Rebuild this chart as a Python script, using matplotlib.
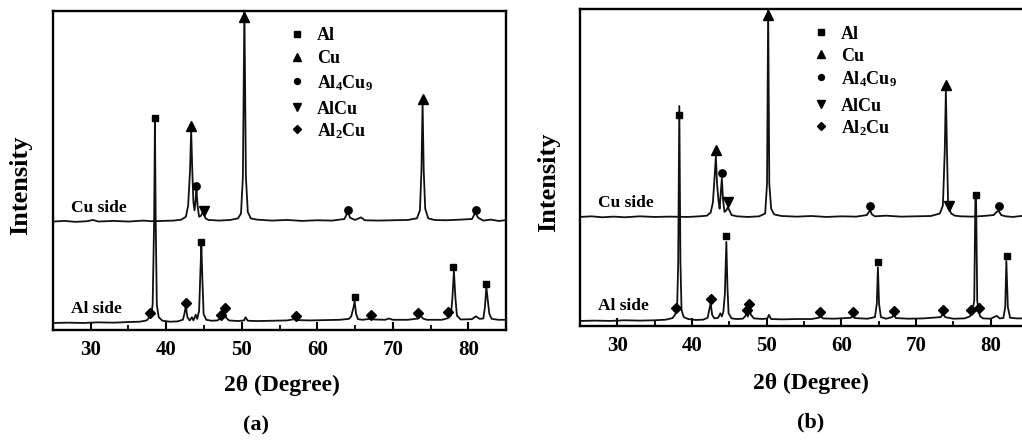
import matplotlib
matplotlib.use("Agg")
import matplotlib.pyplot as plt
from matplotlib.ticker import MultipleLocator

plt.rcParams['font.family'] = ['Liberation Serif', 'DejaVu Serif']
plt.rcParams['font.weight'] = 'bold'
plt.rcParams['mathtext.fontset'] = 'custom'
plt.rcParams['mathtext.rm'] = 'Liberation Serif:bold'
plt.rcParams['mathtext.it'] = 'Liberation Serif:bold'
plt.rcParams['mathtext.bf'] = 'Liberation Serif:bold'

# ---- panel (a) traces (2theta, intensity a.u.) ----
cu_a_x = [25.0, 26.5, 28.0, 29.5, 30.3, 31.0, 33.0, 35.0, 37.0, 38.0, 39.5, 41.0, 42.0, 42.6, 42.9,
          43.15, 43.3, 43.45, 43.6, 43.75, 43.9, 44.0, 44.15, 44.35, 44.6, 44.85, 45.0, 45.2, 45.6,
          47.0, 48.5, 49.5, 49.9, 50.15, 50.35, 50.55, 50.8, 51.2, 52.0, 54.0, 56.0, 58.0, 60.0,
          62.0, 63.6, 63.9, 64.1, 64.35, 65.0, 65.8, 66.3, 68.0, 70.0, 72.0, 73.2, 73.6, 73.8,
          73.95, 74.1, 74.3, 74.7, 75.5, 77.0, 79.0, 80.5, 80.8, 81.0, 81.3, 82.0, 83.0, 84.0, 85.0]
cu_a_y = [34.0, 34.2, 33.9, 34.1, 34.5, 34.0, 34.2, 34.0, 34.3, 34.1, 34.2, 34.3, 34.6, 35.5, 39.0,
          50.0, 62.5, 50.0, 40.0, 37.5, 41.0, 44.0, 39.0, 35.5, 35.8, 37.0, 36.5, 35.0, 34.5,
          34.3, 34.5, 35.0, 36.5, 48.0, 101.0, 48.0, 37.0, 35.0, 34.6, 34.3, 34.5, 34.2, 34.4,
          34.3, 34.8, 36.3, 36.8, 35.2, 34.5, 35.3, 34.4, 34.3, 34.4, 34.5, 35.0, 37.5, 50.0,
          71.5, 50.0, 38.0, 35.0, 34.5, 34.4, 34.6, 34.8, 36.2, 36.6, 35.2, 34.3, 34.6, 34.2, 34.4]

al_a_x = [25.0, 27.0, 29.0, 31.0, 33.0, 35.0, 36.5, 37.4, 37.7, 38.0, 38.2, 38.4, 38.5, 38.6, 38.75,
          39.0, 39.5, 40.5, 41.5, 42.2, 42.4, 42.6, 42.8, 43.1, 43.4, 43.6, 43.9, 44.1, 44.35, 44.55,
          44.65, 44.8, 44.95, 45.3, 46.0, 46.8, 47.1, 47.3, 47.5, 47.7, 47.9, 48.3, 49.5, 50.3, 50.5,
          50.8, 52.0, 54.0, 56.0, 57.0, 57.2, 57.5, 59.0, 61.0, 63.0, 64.2, 64.5, 64.8, 64.95, 65.15,
          65.4, 66.0, 67.0, 67.2, 67.5, 69.0, 69.5, 70.0, 72.0, 73.4, 73.7, 74.0, 74.5, 76.5, 77.3,
          77.7, 77.9, 78.1, 78.3, 78.5, 79.0, 80.5, 81.0, 81.5, 82.0, 82.2, 82.4, 82.6, 82.8, 83.1,
          84.0, 85.0]
al_a_y = [2.2, 2.3, 2.2, 2.4, 2.3, 2.5, 2.6, 3.0, 3.8, 4.5, 8.0, 35.0, 66.0, 35.0, 8.0,
          4.0, 2.9, 2.6, 2.7, 3.2, 5.0, 7.5, 4.0, 3.0, 4.0, 3.0, 4.8, 3.5, 6.0, 20.0,
          26.5, 15.0, 5.0, 3.2, 2.9, 3.0, 3.6, 4.5, 3.8, 5.5, 4.0, 3.0, 2.8, 3.0, 4.0,
          2.9, 2.8, 2.9, 3.0, 3.4, 4.0, 3.1, 3.0, 3.1, 3.2, 3.5, 4.3, 7.0, 9.0, 5.0,
          3.4, 3.2, 3.5, 4.0, 3.3, 3.2, 3.6, 3.2, 3.2, 3.6, 4.5, 3.6, 3.2, 3.2, 3.7,
          4.5, 10.0, 18.5, 10.0, 4.5, 3.3, 3.4, 4.3, 3.5, 3.6, 7.0, 13.5, 9.0, 5.0, 3.5,
          3.2, 3.2]

# ---- panel (b) traces ----
cu_b_x = [25.0, 26.5, 28.0, 29.5, 31.0, 33.0, 35.0, 37.0, 39.5, 41.0, 42.0, 42.5, 42.8, 43.05,
          43.2, 43.35, 43.55, 43.7, 43.85, 44.0, 44.15, 44.35, 44.6, 44.8, 45.0, 45.3, 46.0, 47.5,
          49.0, 49.8, 50.05, 50.2, 50.35, 50.6, 51.0, 52.0, 54.0, 56.0, 58.0, 60.0, 62.0, 63.4,
          63.7, 63.85, 64.1, 64.5, 66.0, 68.0, 70.0, 72.0, 73.2, 73.6, 73.85, 74.0, 74.15, 74.3,
          74.45, 74.7, 75.2, 76.0, 77.5, 79.0, 80.4, 80.8, 81.1, 81.4, 82.0, 83.0, 84.0, 85.0]
cu_b_y = [34.4, 34.6, 34.3, 34.5, 34.3, 34.6, 34.4, 34.5, 34.4, 34.6, 34.8, 35.8, 39.0, 48.0,
          53.5, 45.0, 39.5, 37.0, 42.0, 46.5, 40.0, 36.0, 36.5, 37.5, 36.5, 35.0, 34.6, 34.4,
          34.6, 35.5, 45.0, 101.0, 45.0, 37.0, 35.2, 34.7, 34.5, 34.7, 34.4, 34.6, 34.5, 35.0,
          36.0, 36.5, 35.2, 34.6, 34.8, 34.5, 34.6, 34.7, 35.5, 38.0, 55.0, 74.5, 55.0, 38.5,
          37.0, 35.5, 34.8, 34.6, 34.5, 34.7, 35.0, 36.0, 36.3, 35.0, 34.6, 34.4, 34.7, 34.5]

al_b_x = [25.0, 27.0, 29.0, 31.0, 33.0, 35.0, 36.5, 37.4, 37.7, 38.0, 38.15, 38.3, 38.45, 38.6,
          38.9, 39.5, 40.5, 41.5, 42.1, 42.3, 42.5, 42.7, 43.0, 43.5, 43.8, 44.0, 44.2, 44.4,
          44.6, 44.75, 44.9, 45.3, 46.0, 46.8, 47.1, 47.3, 47.5, 47.7, 47.9, 48.3, 49.5, 50.1,
          50.3, 50.6, 52.0, 54.0, 56.0, 57.0, 57.2, 57.5, 59.0, 61.3, 61.5, 61.8, 63.5, 64.5,
          64.75, 64.9, 65.05, 65.3, 66.0, 66.8, 67.0, 67.3, 69.0, 71.0, 73.3, 73.6, 73.9, 75.0,
          76.5, 77.2, 77.5, 77.8, 77.95, 78.05, 78.2, 78.4, 78.6, 79.0, 80.0, 80.8, 81.2, 81.7,
          81.95, 82.1, 82.3, 82.6, 83.5, 85.0]
al_b_y = [1.6, 1.7, 1.6, 1.8, 1.7, 1.8, 2.0, 2.5, 3.5, 5.0, 20.0, 69.4, 20.0, 5.0,
          2.8, 2.2, 1.9, 2.0, 2.6, 5.0, 7.2, 3.5, 2.4, 2.6, 4.0, 3.0, 4.5, 10.0,
          26.5, 12.0, 4.0, 2.4, 2.2, 2.3, 3.0, 4.0, 3.0, 5.5, 3.5, 2.4, 2.2, 2.4,
          3.5, 2.2, 2.1, 2.2, 2.2, 2.6, 3.3, 2.4, 2.3, 2.6, 3.2, 2.5, 2.3, 2.8,
          7.0, 18.5, 7.0, 2.8, 2.3, 2.8, 3.5, 2.5, 2.3, 2.4, 2.8, 3.8, 2.8, 2.3,
          2.4, 3.0, 4.0, 8.0, 40.0, 40.0, 8.0, 4.5, 3.0, 2.4, 2.3, 3.2, 2.4, 2.5,
          6.0, 20.5, 6.0, 2.6, 2.4, 2.4]

# ---- phase markers: (2theta, height) ----
al_pk_a = ([38.5, 44.6, 64.95, 78.0, 82.3], [66.5, 27.6, 10.3, 19.7, 14.4])
cu_pk_a = ([43.3, 50.35, 73.95], [64.0, 98.0, 72.5])
al4cu9_pk_a = ([44.0, 64.1, 81.0], [45.0, 37.7, 37.5])
alcu_pk_a = ([45.0], [37.3])
al2cu_pk_a = ([37.8, 42.6, 47.3, 47.8, 57.2, 67.1, 73.4, 77.3], [5.3, 8.5, 4.7, 6.9, 4.4, 4.7, 5.3, 5.6])

al_pk_b = ([38.3, 44.6, 64.95, 78.05, 82.15], [66.6, 28.4, 20.2, 41.3, 22.0])
cu_pk_b = ([43.2, 50.2, 74.0], [55.5, 98.0, 76.0])
al4cu9_pk_b = ([44.0, 63.8, 81.1], [48.3, 37.9, 37.9])
alcu_pk_b = ([44.8, 74.4], [39.1, 37.9])
al2cu_pk_b = ([37.8, 42.5, 47.3, 47.7, 57.2, 61.5, 67.0, 73.6, 77.3, 78.4],
              [5.7, 8.5, 5.0, 6.9, 4.4, 4.4, 4.7, 5.0, 5.0, 5.7])

phase_names = ['Al', 'Cu', r'Al$_{4}$Cu$_{9}$', 'AlCu', r'Al$_{2}$Cu']
phase_marks = ['s', '^', 'o', 'v', 'D']
phase_sizes = [5.0, 7.0, 5.3, 7.0, 4.8]


def draw_panel(ax, traces, peaks, leg_x, leg_tx, leg_y, side_y):
    for x, y in traces:
        ax.plot(x, y, color='#111111', lw=1.3)
    for (px, py), m, ms in zip(peaks, phase_marks, phase_sizes):
        ax.plot(px, py, ls='none', marker=m, ms=ms, color='black', clip_on=False, zorder=3)
    # legend drawn by hand
    for name, m, ms, ly in zip(phase_names, phase_marks, phase_sizes, leg_y):
        ax.plot([leg_x], [ly], marker=m, ms=ms * 0.8, color='black', transform=ax.transAxes)
        ax.text(leg_tx, ly, name, transform=ax.transAxes, fontsize=13, fontweight='bold',
                va='center_baseline', ha='left')
    ax.text(27.35, side_y[0], 'Cu side', fontsize=12.5, fontweight='bold', va='center')
    ax.text(27.35, side_y[1], 'Al side', fontsize=12.5, fontweight='bold', va='center')
    ax.set_xlim(25, 85)
    ax.set_ylim(0, 100)
    ax.set_yticks([])
    ax.xaxis.set_major_locator(MultipleLocator(10))
    ax.xaxis.set_minor_locator(MultipleLocator(5))
    ax.set_xticks([30, 40, 50, 60, 70, 80])
    ax.tick_params(axis='x', which='major', direction='in', length=6, width=1.5, pad=7,
                   labelsize=15, top=False)
    ax.tick_params(axis='x', which='minor', direction='in', length=3.5, width=1.3, top=False)
    for lab in ax.get_xticklabels():
        lab.set_fontweight('bold')
    for sp in ax.spines.values():
        sp.set_linewidth(1.7)


fig = plt.figure(figsize=(10.22, 4.45), dpi=100)
ax1 = fig.add_axes([53 / 1022, 115 / 445, 453 / 1022, 319 / 445])
ax2 = fig.add_axes([580 / 1022, 119 / 445, 448 / 1022, 317 / 445])

draw_panel(ax1, [(cu_a_x, cu_a_y), (al_a_x, al_a_y)],
           [al_pk_a, cu_pk_a, al4cu9_pk_a, alcu_pk_a, al2cu_pk_a],
           0.5386, 0.583, [0.928, 0.856, 0.781, 0.699, 0.630], (38.2, 6.6))
draw_panel(ax2, [(cu_b_x, cu_b_y), (al_b_x, al_b_y)],
           [al_pk_b, cu_pk_b, al4cu9_pk_b, alcu_pk_b, al2cu_pk_b],
           0.538, 0.583, [0.927, 0.858, 0.785, 0.700, 0.631], (38.8, 6.3))

fig.text(282 / 1022, 1 - 385 / 445, '2θ (Degree)', fontsize=17, fontweight='bold', ha='center', va='center')
fig.text(811 / 1022, 1 - 383 / 445, '2θ (Degree)', fontsize=17, fontweight='bold', ha='center', va='center')
fig.text(21 / 1022, 1 - 185 / 445, 'Intensity', fontsize=19, fontweight='bold', rotation=90,
         ha='center', va='center')
fig.text(549 / 1022, 1 - 182 / 445, 'Intensity', fontsize=19, fontweight='bold', rotation=90,
         ha='center', va='center')
fig.text(256 / 1022, 1 - 425 / 445, '(a)', fontsize=16, fontweight='bold', ha='center', va='center')
fig.text(811 / 1022, 1 - 422 / 445, '(b)', fontsize=16, fontweight='bold', ha='center', va='center')

fig.savefig('out.png', dpi=100)
